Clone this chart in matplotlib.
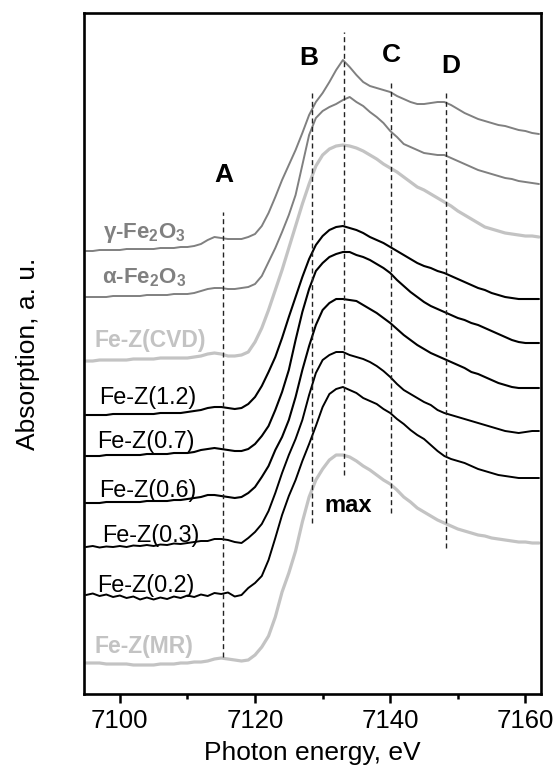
import numpy as np
import matplotlib
matplotlib.use("Agg")
import matplotlib.pyplot as plt

plt.rcParams["font.family"] = ["Liberation Sans", "DejaVu Sans"]
plt.rcParams["mathtext.fontset"] = "custom"
plt.rcParams["mathtext.rm"] = "Liberation Sans"
plt.rcParams["mathtext.bf"] = "Liberation Sans:bold"
plt.rcParams["mathtext.it"] = "Liberation Sans:italic"
plt.rcParams["mathtext.default"] = "regular"

# Photon energy grid (eV)
energy = np.arange(7095, 7163)

# Offset XANES spectra (absorption, a.u.), top to bottom
gamma_fe2o3 = [4.43, 4.43, 4.44, 4.44, 4.44, 4.44, 4.45, 4.45, 4.45, 4.45,
               4.45, 4.46, 4.46, 4.46, 4.47, 4.47, 4.48, 4.50, 4.54, 4.57,
               4.56, 4.55, 4.55, 4.55, 4.57, 4.60, 4.68, 4.81, 4.97, 5.14,
               5.29, 5.44, 5.61, 5.79, 5.92, 6.01, 6.12, 6.24, 6.34, 6.27,
               6.19, 6.12, 6.08, 6.06, 6.04, 6.02, 5.98, 5.95, 5.92, 5.90,
               5.90, 5.91, 5.92, 5.92, 5.89, 5.85, 5.81, 5.78, 5.75, 5.73,
               5.71, 5.69, 5.68, 5.66, 5.64, 5.63, 5.61, 5.60]
alpha_fe2o3 = [3.97, 3.97, 3.97, 3.97, 3.98, 3.98, 3.98, 3.98, 3.98, 3.99,
               3.99, 3.99, 3.99, 4.00, 4.00, 4.00, 4.01, 4.03, 4.05, 4.06,
               4.06, 4.05, 4.05, 4.06, 4.07, 4.10, 4.18, 4.32, 4.46, 4.62,
               4.79, 4.99, 5.29, 5.59, 5.76, 5.83, 5.87, 5.90, 5.94, 5.97,
               5.92, 5.88, 5.82, 5.77, 5.71, 5.63, 5.57, 5.50, 5.47, 5.44,
               5.41, 5.40, 5.39, 5.39, 5.36, 5.33, 5.30, 5.27, 5.24, 5.22,
               5.20, 5.18, 5.16, 5.15, 5.13, 5.12, 5.11, 5.10]
fez_cvd = [3.33, 3.33, 3.34, 3.34, 3.34, 3.34, 3.34, 3.35, 3.35, 3.35,
           3.35, 3.36, 3.36, 3.36, 3.36, 3.36, 3.37, 3.38, 3.40, 3.41,
           3.40, 3.38, 3.38, 3.39, 3.42, 3.52, 3.66, 3.84, 4.04, 4.24,
           4.46, 4.68, 4.90, 5.10, 5.28, 5.39, 5.45, 5.48, 5.49, 5.48,
           5.46, 5.43, 5.39, 5.35, 5.30, 5.26, 5.22, 5.17, 5.12, 5.07,
           5.04, 5.00, 4.96, 4.92, 4.88, 4.83, 4.79, 4.75, 4.71, 4.67,
           4.65, 4.63, 4.61, 4.60, 4.59, 4.58, 4.58, 4.57]
fez_12 = [2.79, 2.79, 2.79, 2.79, 2.80, 2.80, 2.80, 2.80, 2.80, 2.80,
          2.80, 2.81, 2.81, 2.81, 2.81, 2.82, 2.83, 2.84, 2.86, 2.87,
          2.87, 2.86, 2.85, 2.86, 2.90, 2.97, 3.08, 3.22, 3.37, 3.56,
          3.77, 3.97, 4.17, 4.35, 4.49, 4.58, 4.64, 4.67, 4.68, 4.66,
          4.64, 4.61, 4.57, 4.54, 4.51, 4.47, 4.43, 4.39, 4.35, 4.31,
          4.28, 4.26, 4.23, 4.21, 4.18, 4.15, 4.12, 4.09, 4.06, 4.04,
          4.01, 3.99, 3.97, 3.96, 3.95, 3.95, 3.95, 3.95]
fez_07 = [2.38, 2.38, 2.38, 2.39, 2.39, 2.39, 2.39, 2.39, 2.39, 2.40,
          2.40, 2.40, 2.40, 2.41, 2.41, 2.41, 2.42, 2.44, 2.45, 2.46,
          2.45, 2.44, 2.43, 2.43, 2.45, 2.50, 2.58, 2.68, 2.84, 3.02,
          3.24, 3.54, 3.82, 4.05, 4.23, 4.31, 4.37, 4.40, 4.42, 4.42,
          4.39, 4.37, 4.34, 4.30, 4.26, 4.21, 4.14, 4.08, 4.02, 3.97,
          3.92, 3.88, 3.85, 3.82, 3.79, 3.76, 3.74, 3.71, 3.69, 3.66,
          3.63, 3.60, 3.57, 3.54, 3.52, 3.51, 3.51, 3.51]
fez_06 = [1.91, 1.91, 1.91, 1.92, 1.92, 1.92, 1.92, 1.92, 1.92, 1.93,
          1.93, 1.93, 1.93, 1.94, 1.94, 1.95, 1.96, 1.97, 1.99, 1.99,
          1.98, 1.97, 1.96, 1.97, 2.01, 2.07, 2.17, 2.28, 2.44, 2.57,
          2.74, 2.97, 3.24, 3.48, 3.69, 3.84, 3.91, 3.95, 3.95, 3.94,
          3.93, 3.89, 3.85, 3.81, 3.76, 3.71, 3.65, 3.59, 3.54, 3.49,
          3.45, 3.41, 3.38, 3.35, 3.32, 3.29, 3.26, 3.22, 3.20, 3.17,
          3.14, 3.11, 3.09, 3.07, 3.06, 3.06, 3.06, 3.06]
fez_03 = [1.47, 1.48, 1.465, 1.475, 1.47, 1.48, 1.47, 1.485, 1.48, 1.49,
          1.48, 1.495, 1.49, 1.505, 1.50, 1.51, 1.52, 1.53, 1.53, 1.55,
          1.55, 1.54, 1.52, 1.51, 1.56, 1.62, 1.70, 1.83, 2.01, 2.21,
          2.39, 2.55, 2.74, 2.99, 3.21, 3.34, 3.39, 3.42, 3.42, 3.39,
          3.37, 3.35, 3.32, 3.28, 3.23, 3.17, 3.10, 3.04, 3.00, 2.96,
          2.92, 2.89, 2.84, 2.81, 2.79, 2.77, 2.75, 2.73, 2.71, 2.69,
          2.67, 2.65, 2.63, 2.62, 2.61, 2.62, 2.63, 2.63]
fez_02 = [0.99, 1.005, 0.98, 0.995, 0.97, 0.985, 0.96, 0.975, 0.945, 0.965,
          0.945, 0.965, 0.95, 0.975, 0.96, 0.985, 0.97, 0.995, 0.98, 1.01,
          1.00, 1.015, 0.975, 0.99, 1.06, 1.11, 1.18, 1.34, 1.56, 1.79,
          1.98, 2.14, 2.33, 2.50, 2.68, 2.87, 3.00, 3.05, 3.07, 3.04,
          3.01, 2.96, 2.93, 2.90, 2.85, 2.81, 2.75, 2.70, 2.64, 2.59,
          2.55, 2.49, 2.43, 2.38, 2.35, 2.33, 2.31, 2.28, 2.25, 2.23,
          2.21, 2.19, 2.18, 2.17, 2.16, 2.16, 2.16, 2.16]
fez_mr = [0.31, 0.31, 0.31, 0.30, 0.30, 0.30, 0.30, 0.29, 0.29, 0.29,
          0.29, 0.30, 0.30, 0.30, 0.31, 0.31, 0.32, 0.32, 0.33, 0.35,
          0.36, 0.35, 0.34, 0.33, 0.34, 0.39, 0.47, 0.58, 0.77, 1.02,
          1.21, 1.43, 1.72, 1.97, 2.14, 2.25, 2.34, 2.39, 2.39, 2.37,
          2.33, 2.28, 2.24, 2.19, 2.14, 2.10, 2.04, 1.97, 1.92, 1.86,
          1.82, 1.78, 1.74, 1.71, 1.68, 1.65, 1.63, 1.61, 1.59, 1.58,
          1.56, 1.55, 1.54, 1.53, 1.52, 1.52, 1.51, 1.51]

sample_names = [r"$\gamma$-Fe$_\mathbf{2}$O$_\mathbf{3}$",
                r"$\alpha$-Fe$_\mathbf{2}$O$_\mathbf{3}$",
                "Fe-Z(CVD)", "Fe-Z(1.2)", "Fe-Z(0.7)", "Fe-Z(0.6)",
                "Fe-Z(0.3)", "Fe-Z(0.2)", "Fe-Z(MR)"]
spectra = [gamma_fe2o3, alpha_fe2o3, fez_cvd, fez_12, fez_07, fez_06,
           fez_03, fez_02, fez_mr]

# Feature positions (eV) marked with dashed lines
feature_names = ["A", "B", "max", "C", "D"]
feature_energy = [7115.3, 7128.4, 7133.1, 7140.1, 7148.2]

# Styling
GRAY = "#808080"
LIGHT = "#c3c3c3"
line_color = [GRAY, GRAY, LIGHT, "black", "black", "black", "black", "black", LIGHT]
line_width = [1.4, 1.4, 2.3, 1.5, 1.5, 1.5, 1.4, 1.4, 2.3]
label_color = [GRAY, GRAY, LIGHT, "black", "black", "black", "black", "black", LIGHT]
label_weight = ["bold", "bold", "bold", "normal", "normal", "normal", "normal", "normal", "bold"]
label_size = [16, 16, 16.5, 16.8, 16.8, 16.8, 16.8, 16.8, 16.5]
label_x = [7097.5, 7097.3, 7096.3, 7096.9, 7096.7, 7096.9, 7097.4, 7096.6, 7096.3]
label_y = [4.56, 4.11, 3.47, 2.90, 2.46, 1.97, 1.52, 1.02, 0.41]

dash_span = [(0.37, 4.82), (1.71, 6.03), (2.19, 6.62), (1.81, 6.13), (1.46, 6.01)]
feature_text_pos = {"A": (7115.4, 5.12), "B": (7128.0, 6.29), "C": (7140.1, 6.32),
                    "D": (7148.9, 6.21), "max": (7133.8, 1.82)}

fig = plt.figure(figsize=(5.54, 7.70), dpi=100)
ax = fig.add_axes([0.1516, 0.0987, 0.8249, 0.8844])

for y, c, lw in zip(spectra, line_color, line_width):
    ax.plot(energy, y, color=c, lw=lw, solid_joinstyle="round", solid_capstyle="round")

for name, c, w, fs, tx, ty in zip(sample_names, label_color, label_weight,
                                  label_size, label_x, label_y):
    ax.text(tx, ty, name, color=c, fontweight=w, fontsize=fs,
            ha="left", va="baseline")

for fname, fe, (y0, y1) in zip(feature_names, feature_energy, dash_span):
    ax.plot([fe, fe], [y0, y1], color="#222222", lw=1.0,
            linestyle=(0, (3.6, 2.4)))
    tx, ty = feature_text_pos[fname]
    fs = 17 if fname == "max" else 19
    ax.text(tx, ty, fname, fontsize=fs, fontweight="bold", ha="center", va="baseline")

ax.set_xlim(7094.7, 7162.3)
ax.set_ylim(0, 6.81)
ax.set_xticks([7100, 7120, 7140, 7160])
ax.set_xticks([7110, 7130, 7150], minor=True)
ax.set_yticks([])
ax.tick_params(axis="x", which="major", direction="out", length=6.5, width=1.8,
               labelsize=18.5, pad=4)
ax.tick_params(axis="x", which="minor", direction="out", length=3.5, width=1.8)
for s in ax.spines.values():
    s.set_linewidth(1.9)

ax.set_xlabel("Photon energy, eV", fontsize=19, labelpad=6)
ax.set_ylabel("Absorption, a. u.", fontsize=19, labelpad=32)

fig.savefig("out.png", dpi=100)
